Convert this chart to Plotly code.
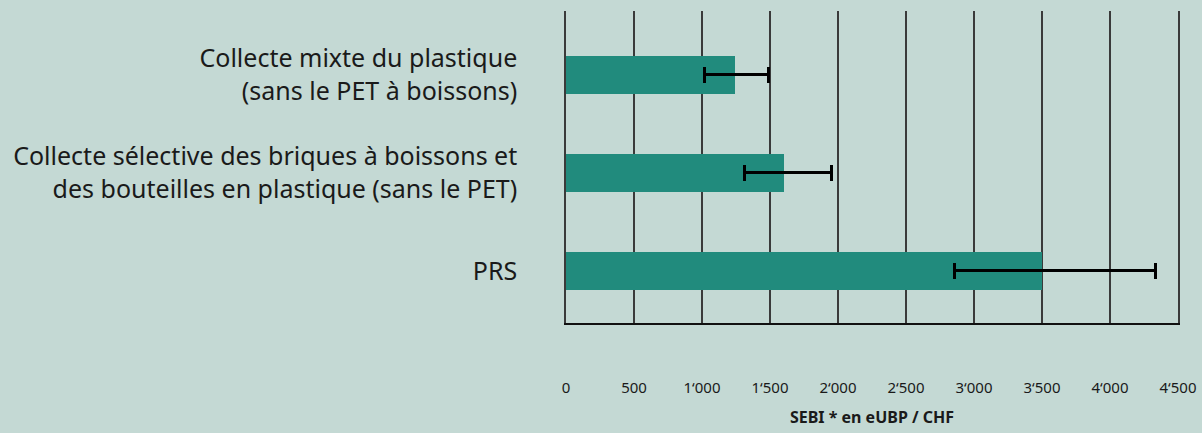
import plotly.graph_objects as go

categories = [
    "Collecte mixte du plastique<br>(sans le PET à boissons)",
    "Collecte sélective des briques à boissons et<br>des bouteilles en plastique (sans le PET)",
    "PRS",
]
values = [1245, 1605, 3500]
err_low = [1015, 1313, 2857]
err_high = [1490, 1953, 4335]

tick_vals = [0, 500, 1000, 1500, 2000, 2500, 3000, 3500, 4000, 4500]
tick_text = ["0", "500", "1‘000", "1‘500", "2‘000", "2‘500", "3‘000", "3‘500", "4‘000", "4‘500"]

BG = "#c4d9d4"
BAR = "#218b7d"
FONT = "Noto Sans"
GRID = "#3a3a3a"

fig = go.Figure()
fig.add_trace(go.Bar(
    y=categories,
    x=values,
    orientation="h",
    marker=dict(color=BAR, line=dict(width=0)),
    width=0.39,
    error_x=dict(
        type="data",
        symmetric=False,
        array=[h - v for h, v in zip(err_high, values)],
        arrayminus=[v - l for l, v in zip(err_low, values)],
        color="#000000",
        thickness=3,
        width=8,
    ),
    hoverinfo="skip",
))

fig.update_layout(
    width=1202,
    height=433,
    paper_bgcolor=BG,
    plot_bgcolor=BG,
    margin=dict(l=566, r=24, t=11, b=110, autoexpand=False),
    showlegend=False,
    bargap=0,
    font=dict(family=FONT, color="#1a1a1a"),
    xaxis=dict(
        range=[0, 4500],
        tickvals=tick_vals,
        ticktext=tick_text,
        tickfont=dict(size=15, family=FONT, color="#1a1a1a"),
        ticklabelstandoff=50,
        automargin=False,
        showgrid=True,
        gridcolor=GRID,
        gridwidth=1.5,
        zeroline=False,
        showline=True,
        linecolor="#111111",
        linewidth=2,
        ticks="",
        title=dict(text="<b>SEBI * en eUBP / CHF</b>", font=dict(size=16, family=FONT, color="#1a1a1a"), standoff=16),
        fixedrange=True,
    ),
    yaxis=dict(
        categoryorder="array",
        categoryarray=categories,
        range=[2.531, -0.653],
        tickfont=dict(size=25, family=FONT, color="#1a1a1a"),
        ticklabelstandoff=42,
        automargin=False,
        showgrid=False,
        zeroline=False,
        showline=True,
        mirror=True,
        linecolor=GRID,
        linewidth=1.5,
        ticks="",
        fixedrange=True,
    ),
)

fig.write_html(
    "out.html",
    config={"displayModeBar": False},
    post_script="document.body.style.margin='0';document.body.style.overflow='hidden';",
)
